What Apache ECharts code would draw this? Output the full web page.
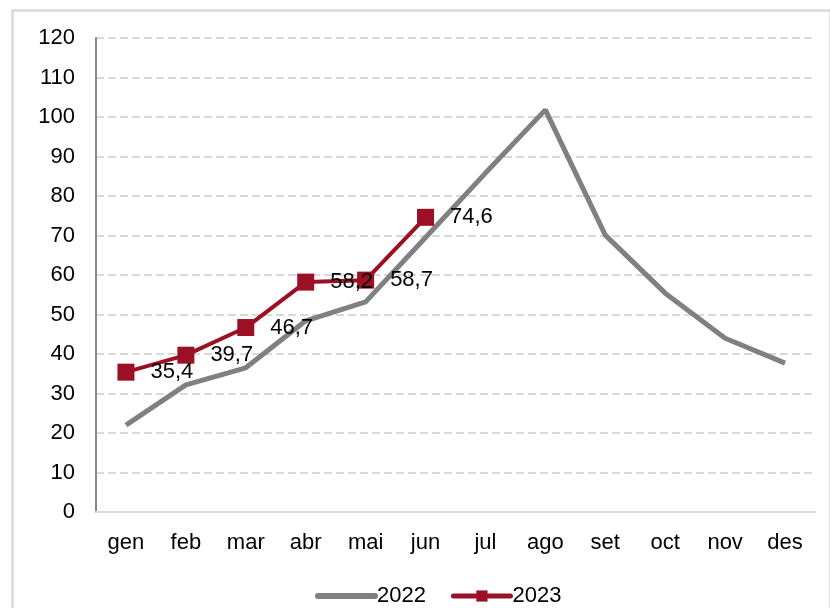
<!DOCTYPE html>
<html><head><meta charset="utf-8">
<script src="https://cdn.jsdelivr.net/npm/echarts@6/dist/echarts.min.js"></script>
<style>html,body{margin:0;padding:0;background:#fff}#c{width:830px;height:608px}</style>
</head><body><div id="c"></div>
<script>
const categories = ['gen','feb','mar','abr','mai','jun','jul','ago','set','oct','nov','des'];
const values2022 = [22, 32.2, 36.5, 48.4, 53.2, 69.5, 85.8, 101.8, 70.1, 55.4, 44, 37.7];
const values2023 = [35.4, 39.7, 46.7, 58.2, 58.7, 74.6];
const seriesNames = ['2022', '2023'];
const yTicks = {min: 0, max: 120, interval: 10};

const font = 'Liberation Sans, Arial, sans-serif';
const chart = echarts.init(document.getElementById('c'), null, {renderer: 'canvas'});
chart.setOption({
  animation: false,
  backgroundColor: '#fff',
  graphic: [{
    type: 'rect', left: 10, top: 8, z: -1,
    shape: {width: 818, height: 605},
    style: {fill: 'none', stroke: '#d9d9d9', lineWidth: 2.5}
  }],
  grid: {left: 96, right: 15, top: 38, bottom: 96, containLabel: false},
  legend: {
    left: 310, top: 580,
    itemWidth: 57, itemHeight: 14, itemGap: 25,
    textStyle: {fontFamily: font, fontSize: 22, color: '#000', padding: [0,0,0,-3]},
    data: [
      {name: seriesNames[0], itemStyle: {opacity: 0}, lineStyle: {width: 6, cap: 'round'}},
      {name: seriesNames[1], lineStyle: {width: 5, cap: 'round'}}
    ]
  },
  xAxis: {
    type: 'category', data: categories, boundaryGap: true,
    axisLine: {lineStyle: {color: '#d9d9d9', width: 2}},
    axisTick: {show: false},
    axisLabel: {fontFamily: font, fontSize: 22, color: '#000', margin: 20}
  },
  yAxis: {
    type: 'value', min: yTicks.min, max: yTicks.max, interval: yTicks.interval,
    axisLine: {show: true, lineStyle: {color: '#888', width: 2}},
    axisTick: {show: false},
    axisLabel: {fontFamily: font, fontSize: 22, color: '#000', margin: 21},
    splitLine: {lineStyle: {color: '#d9d9d9', width: 2, type: [8, 4]}}
  },
  series: [{
    name: seriesNames[0], type: 'line', data: values2022,
    symbol: 'none', color: '#808080',
    lineStyle: {color: '#808080', width: 5}, z: 2
  }, {
    name: seriesNames[1], type: 'line', data: values2023,
    symbol: 'rect', symbolSize: 17, color: '#9C1026',
    lineStyle: {color: '#9C1026', width: 4},
    itemStyle: {color: '#9C1026'}, z: 3,
    label: {
      show: true, position: 'right', distance: 16,
      fontFamily: font, fontSize: 22, color: '#000',
      formatter: p => String(p.value).replace('.', ',')
    }
  }]
});
</script></body></html>
